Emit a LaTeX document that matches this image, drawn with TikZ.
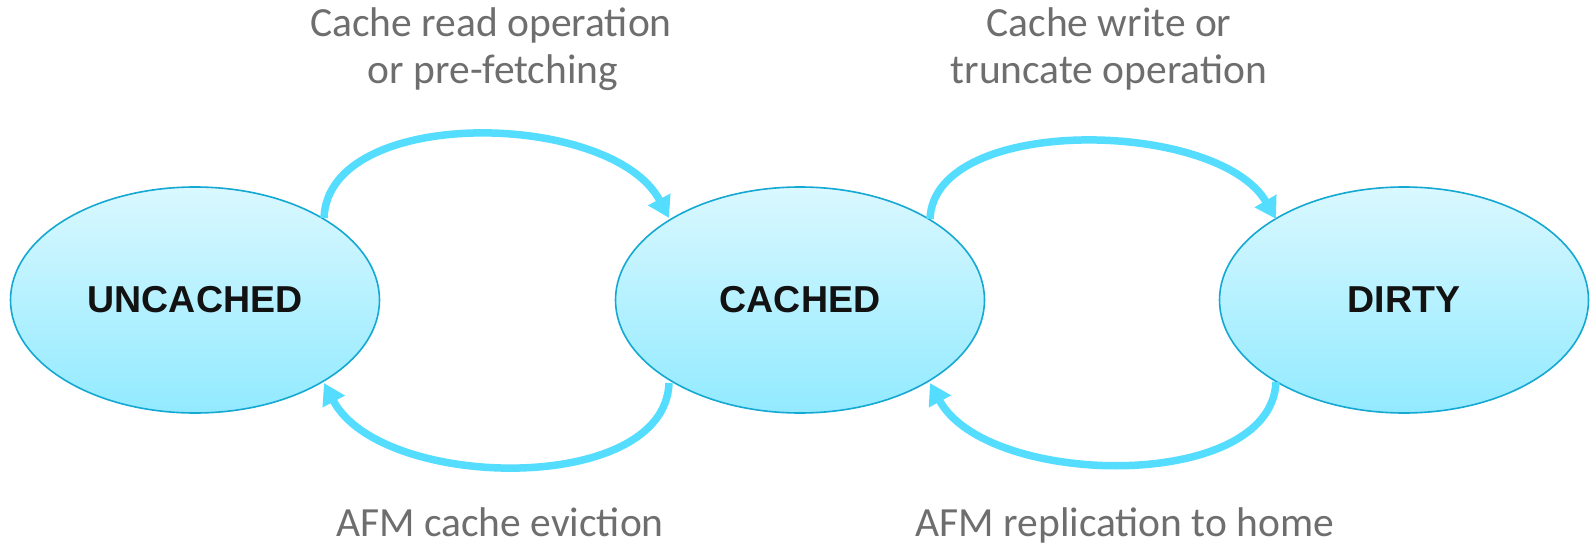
\documentclass[tikz,border=0pt]{standalone}
\usepackage{fontspec}
\setmainfont{Carlito}
\newfontfamily\statefont{Liberation Sans}
\usetikzlibrary{shapes.geometric,arrows.meta}
\definecolor{edgeblue}{HTML}{14A8D2}
\definecolor{filltop}{HTML}{DAF8FF}
\definecolor{fillbot}{HTML}{92EAFF}
\definecolor{arrowcyan}{HTML}{55DDFF}
\definecolor{labelgray}{HTML}{6E6E6E}
\tikzset{
  state/.style={ellipse, draw=edgeblue, line width=1.6pt,
    top color=filltop, bottom color=fillbot,
    minimum width=369pt, minimum height=226pt, inner sep=0pt,
    font=\statefont\bfseries\fontsize{37.5}{42}\selectfont, text=black!93},
  trans/.style={draw=arrowcyan, line width=7.5pt,
    -{Triangle[width=24pt,length=21pt]}},
  lbl/.style={font=\fontsize{41.5}{48}\selectfont, text=labelgray,
    align=center, anchor=base, inner sep=0pt}
}
\begin{document}
\begin{tikzpicture}[x=1pt, y=-1pt]
  \useasboundingbox[fill=white] (0,0) rectangle (1590,551);

  % states
  \node[state] (uncached) at (195,300) {UNCACHED};
  \node[state] (cached)   at (800,300) {CACHED};
  \node[state] (dirty)    at (1404,300) {DIRTY};

  % end points of the curved transitions on the ellipse borders
  \coordinate (u-top) at (324,218);
  \coordinate (u-bot) at (324,383);
  \coordinate (c-tl)  at (669,218);
  \coordinate (c-bl)  at (669,383);
  \coordinate (c-tr)  at (930,219);
  \coordinate (c-br)  at (930,383);
  \coordinate (d-top) at (1276,219);
  \coordinate (d-bot) at (1276,382);

  % transitions
  \draw[trans] (u-top) .. controls (328,105) and (612,110) .. (c-tl);
  \draw[trans] (c-bl) .. controls (665,496) and (381,491) .. (u-bot);
  \draw[trans] (c-tr) .. controls (934,114) and (1218,119) .. (d-top);
  \draw[trans] (d-bot) .. controls (1271,493) and (987,488) .. (c-br);

  % transition labels
  \node[lbl] (read1)  at (491,37) {Cache read operation};
  \node[lbl] (read2)  at (493,84) {or pre-fetching};
  \node[lbl] (write1) at (1109,37) {Cache write or};
  \node[lbl] (write2) at (1109,84) {truncate operation};
  \node[lbl] (evict)  at (500,536) {AFM cache eviction};
  \node[lbl] (repl)   at (1125,536) {AFM replication to home};
\end{tikzpicture}
\end{document}
